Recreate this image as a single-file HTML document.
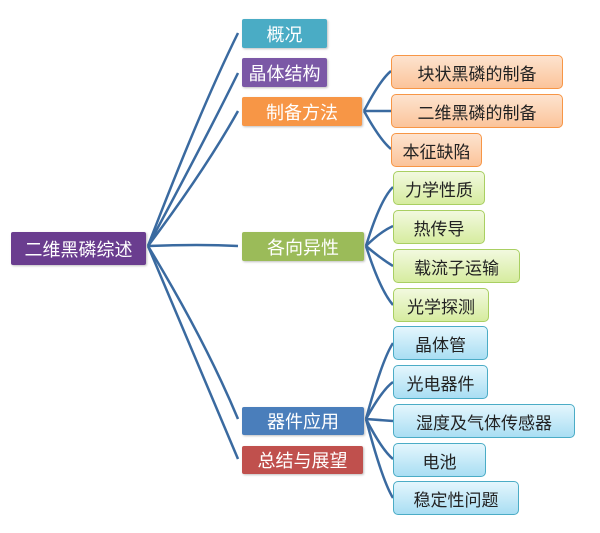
<!DOCTYPE html>
<html><head><meta charset="utf-8"><style>
body{margin:0;width:600px;height:533px;background:#fff;position:relative;overflow:hidden;font-family:"Liberation Sans","Noto Sans CJK SC",sans-serif}
.b{position:absolute;box-sizing:border-box;display:flex;align-items:center;justify-content:center;font-size:17px;white-space:nowrap}
.l1{color:#fff;border-radius:2px;box-shadow:1px 1px 2px rgba(0,0,0,.25);font-size:18px}
.o{background:linear-gradient(#fde3cf,#fbc49a);border:1.5px solid #f79646;border-radius:5px;color:#222}
.g{background:linear-gradient(#f2f9df,#d6ec9f);border:1.5px solid #a9cf62;border-radius:5px;color:#222}
.c{background:linear-gradient(#e4f6fd,#a9def3);border:1.5px solid #4bacc6;border-radius:5px;color:#222}
svg{position:absolute;left:0;top:0}
</style></head><body>
<svg width="600" height="533"><g fill="none" stroke="#3a6aa0" stroke-width="2.5">
<path d="M148 246 Q200 110 238 33"/>
<path d="M148 246 Q205 140 238 73"/>
<path d="M148 246 Q205 170 238 111"/>
<path d="M148 246 Q200 244 238 246"/>
<path d="M148 246 Q205 340 238 419"/>
<path d="M148 246 Q200 370 238 459"/>
<path d="M364 111 Q380 80 391 71"/><path d="M364 111 L391 111"/><path d="M364 111 Q380 140 391 149"/>
<path d="M366 246 Q380 200 393 187"/><path d="M366 246 Q380 232 393 226"/><path d="M366 246 Q380 258 393 266"/><path d="M366 246 Q380 290 393 305"/>
<path d="M366 419 Q382 360 393 343"/><path d="M366 419 Q382 390 393 382"/><path d="M366 419 L393 421"/><path d="M366 419 Q382 450 393 459"/><path d="M366 419 Q382 480 393 498"/>
</g></svg>
<div class="b l1" style="left:11px;top:232px;width:135px;height:33px;background:#6a3d8f">二维黑磷综述</div>
<div class="b l1" style="left:242px;top:19px;width:85px;height:29px;background:#4aacc5">概况</div>
<div class="b l1" style="left:242px;top:58px;width:85px;height:29px;background:#7b58a6">晶体结构</div>
<div class="b l1" style="left:242px;top:97px;width:120px;height:29px;background:#f79646">制备方法</div>
<div class="b l1" style="left:242px;top:232px;width:122px;height:29px;background:#9bbb59">各向异性</div>
<div class="b l1" style="left:242px;top:407px;width:122px;height:28px;background:#4a7ebb">器件应用</div>
<div class="b l1" style="left:242px;top:446px;width:121px;height:28px;background:#c0504d">总结与展望</div>
<div class="b o" style="left:391px;top:55px;width:172px;height:34px">块状黑磷的制备</div>
<div class="b o" style="left:391px;top:94px;width:172px;height:34px">二维黑磷的制备</div>
<div class="b o" style="left:391px;top:133px;width:91px;height:34px">本征缺陷</div>
<div class="b g" style="left:393px;top:171px;width:92px;height:34px">力学性质</div>
<div class="b g" style="left:393px;top:210px;width:92px;height:34px">热传导</div>
<div class="b g" style="left:393px;top:249px;width:127px;height:34px">载流子运输</div>
<div class="b g" style="left:393px;top:288px;width:96px;height:34px">光学探测</div>
<div class="b c" style="left:393px;top:326px;width:95px;height:34px">晶体管</div>
<div class="b c" style="left:393px;top:365px;width:95px;height:34px">光电器件</div>
<div class="b c" style="left:393px;top:404px;width:182px;height:34px">湿度及气体传感器</div>
<div class="b c" style="left:393px;top:443px;width:93px;height:34px">电池</div>
<div class="b c" style="left:393px;top:481px;width:126px;height:34px">稳定性问题</div>
</body></html>
